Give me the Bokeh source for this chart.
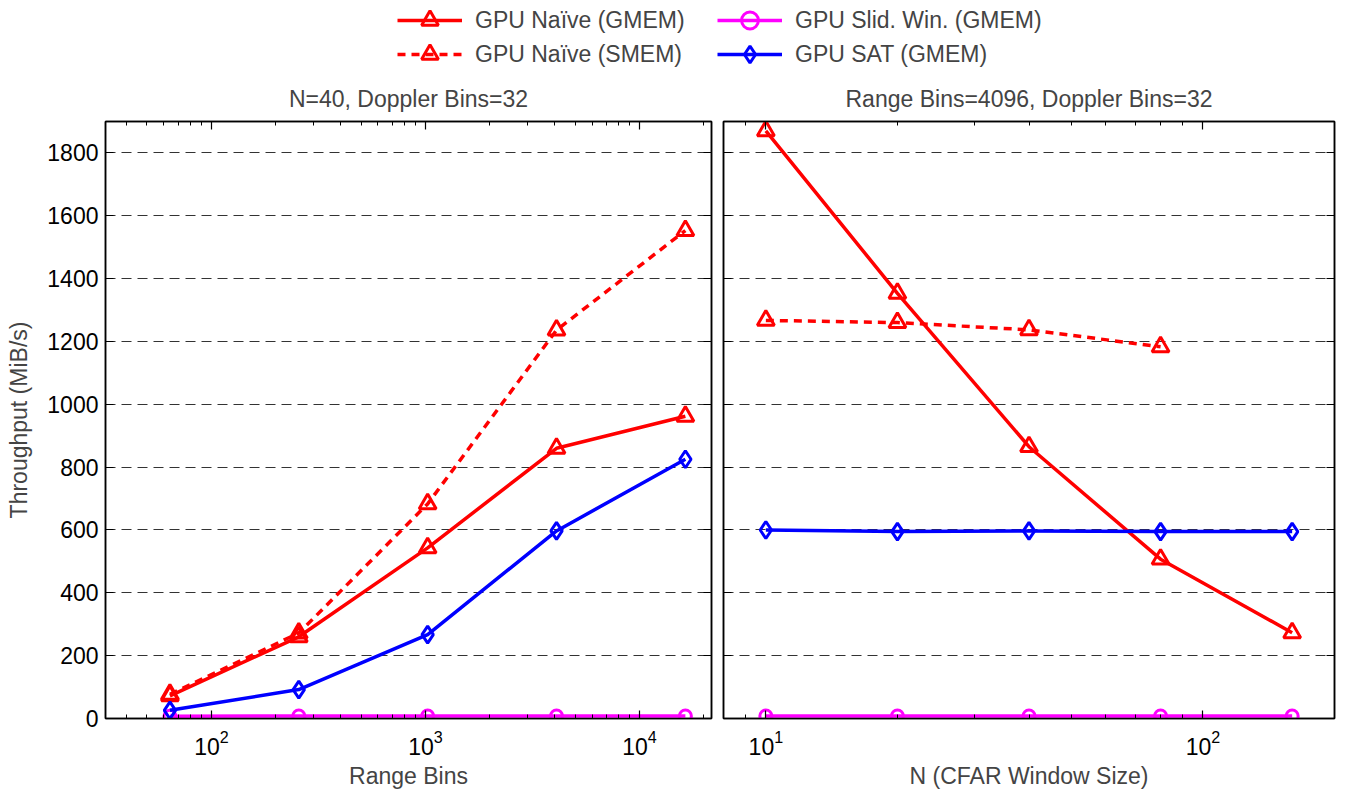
from bokeh.plotting import figure
from bokeh.layouts import column, row
from bokeh.models import (FixedTicker, LogAxis, LinearAxis, Legend, LegendItem,
                          LogTickFormatter, CustomJSTickFormatter, Range1d)
from bokeh.embed import file_html
from bokeh.resources import INLINE

# ---------------- data ----------------
range_bins = [64, 256, 1024, 4096, 16384]
left_naive_gmem = [72, 260, 543, 860, 962]
left_naive_smem = [77, 272, 683, 1236, 1553]
left_slid_gmem = [7, 8, 8, 8, 8]
left_sat_gmem = [26, 92, 267, 597, 825]

window_n = [10, 20, 40, 80, 160]
right_naive_gmem = [1870, 1353, 865, 507, 273]
window_n_smem = [10, 20, 40, 80]
right_naive_smem = [1267, 1260, 1237, 1183]
right_slid_gmem = [8, 8, 8, 8, 8]
right_sat_gmem = [600, 595, 597, 595, 595]

y_ticks = [0, 200, 400, 600, 800, 1000, 1200, 1400, 1600, 1800]
left_major = [100, 1000, 10000]
left_minor = [40, 50, 60, 70, 80, 90, 200, 300, 400, 500, 600, 700, 800, 900,
              2000, 3000, 4000, 5000, 6000, 7000, 8000, 9000, 20000]
right_major = [10, 100]
right_minor = [8, 9, 20, 30, 40, 50, 60, 70, 80, 90, 200]

series_names = ["GPU Naïve (GMEM)", "GPU Naïve (SMEM)", "GPU Slid. Win. (GMEM)", "GPU SAT (GMEM)"]

RED = "#ff0000"
BLUE = "#0000ff"
MAG = "#ff00ff"
FONT = "Liberation Sans"
FS = "23px"
TICK_FS = "23px"

STYLES = {
    "naive_gmem": dict(color=RED, marker="triangle", dash="solid", size=17),
    "naive_smem": dict(color=RED, marker="triangle", dash="8 6", size=17),
    "slid": dict(color=MAG, marker="circle", dash="solid", size=12),
    "sat": dict(color=BLUE, marker="diamond", dash="solid", size=17),
}


def draw(p, x, y, key):
    st = STYLES[key]
    l = p.line(x, y, line_color=st["color"], line_width=3.5, line_dash=st["dash"])
    s = p.scatter(x, y, marker=st["marker"], size=st["size"], line_color=st["color"],
                  line_width=3, fill_color=None)
    return l, s


def style_axis(ax, hide_labels=False):
    ax.major_tick_in = 8
    ax.major_tick_out = 0
    ax.minor_tick_in = 4
    ax.minor_tick_out = 0
    ax.axis_line_width = 1.5
    ax.major_tick_line_width = 1.2
    ax.minor_tick_line_width = 1.0
    ax.major_label_text_font = FONT
    ax.major_label_text_font_size = TICK_FS
    ax.major_label_text_color = "black"
    ax.axis_label_text_font = FONT
    ax.axis_label_text_font_size = FS
    ax.axis_label_text_font_style = "normal"
    if hide_labels:
        ax.major_label_text_font_size = "0px"
        ax.formatter = CustomJSTickFormatter(code="return ''")
        ax.major_label_standoff = 0


def make_panel(width, xr, major, minor, title, xlabel, show_ylabels, mb_left, mb_right):
    p = figure(width=width, height=723, x_axis_type="log", x_range=xr,
               y_range=Range1d(0, 1900), output_backend="svg", toolbar_location=None,
               min_border_left=mb_left, min_border_right=mb_right,
               min_border_top=53, min_border_bottom=60, title=title)
    p.title.align = "center"
    p.title.text_font = FONT
    p.title.text_font_size = FS
    p.title.text_font_style = "normal"
    p.title.standoff = 19
    p.outline_line_color = "black"
    p.outline_line_width = 1.5
    p.background_fill_color = "white"
    p.border_fill_color = "white"

    xt = FixedTicker(ticks=major, minor_ticks=minor)
    yt = FixedTicker(ticks=y_ticks, minor_ticks=[])

    p.xaxis.ticker = xt
    p.xaxis.formatter = LogTickFormatter()
    p.xaxis.axis_label = xlabel
    p.xaxis.major_label_standoff = 11
    p.xaxis.axis_label_standoff = 5
    style_axis(p.xaxis[0])

    p.yaxis.ticker = yt
    style_axis(p.yaxis[0], hide_labels=not show_ylabels)
    if show_ylabels:
        p.yaxis.axis_label = "Throughput (MiB/s)"
        p.yaxis.major_label_standoff = 7
        p.yaxis.axis_label_standoff = 12

    top = LogAxis(ticker=xt)
    style_axis(top, hide_labels=True)
    p.add_layout(top, "above")
    right = LinearAxis(ticker=yt)
    style_axis(right, hide_labels=True)
    p.add_layout(right, "right")

    p.xgrid.visible = False
    p.ygrid.grid_line_color = "#333333"
    p.ygrid.grid_line_width = 1
    p.ygrid.grid_line_dash = "10 6"
    return p


p1 = make_panel(717, Range1d(32, 21700), left_major, left_minor,
                "N=40, Doppler Bins=32", "Range Bins", True, 105, 6)
draw(p1, range_bins, left_naive_gmem, "naive_gmem")
draw(p1, range_bins, left_naive_smem, "naive_smem")
draw(p1, range_bins, left_slid_gmem, "slid")
draw(p1, range_bins, left_sat_gmem, "sat")

p2 = make_panel(620, Range1d(8, 200), right_major, right_minor,
                "Range Bins=4096, Doppler Bins=32", "N (CFAR Window Size)", False, 6, 3)
draw(p2, window_n, right_naive_gmem, "naive_gmem")
draw(p2, window_n_smem, right_naive_smem, "naive_smem")
draw(p2, window_n, right_slid_gmem, "slid")
draw(p2, window_n, right_sat_gmem, "sat")

# ---------------- legend strip ----------------
LH = 68
lf = figure(width=1337, height=LH, x_range=Range1d(0, 1), y_range=Range1d(0, 1),
            output_backend="svg", toolbar_location=None, min_border=0)
lf.axis.visible = False
lf.grid.visible = False
lf.outline_line_color = None

keys = ["naive_gmem", "naive_smem", "slid", "sat"]
rends = [draw(lf, [5], [5], k) for k in keys]

GH = 42  # glyph box height (legend marker size is 0.4 of it)
# one single-item legend per entry: (series index, left x, row centre from top)
legend_slots = [(0, 397, 20), (1, 397, 54), (2, 717, 20), (3, 717, 54)]
for i, lx, cy in legend_slots:
    lf.add_layout(Legend(
        items=[LegendItem(label=series_names[i], renderers=list(rends[i]))],
        location=(lx, LH - cy - GH // 2), glyph_width=65, glyph_height=GH,
        label_height=GH, spacing=0, label_standoff=13, padding=0, margin=0,
        border_line_alpha=0, background_fill_alpha=0,
        label_text_font=FONT, label_text_font_size=FS))

layout = column(lf, row(p1, p2))
open("out.html", "w").write(file_html(layout, INLINE))
